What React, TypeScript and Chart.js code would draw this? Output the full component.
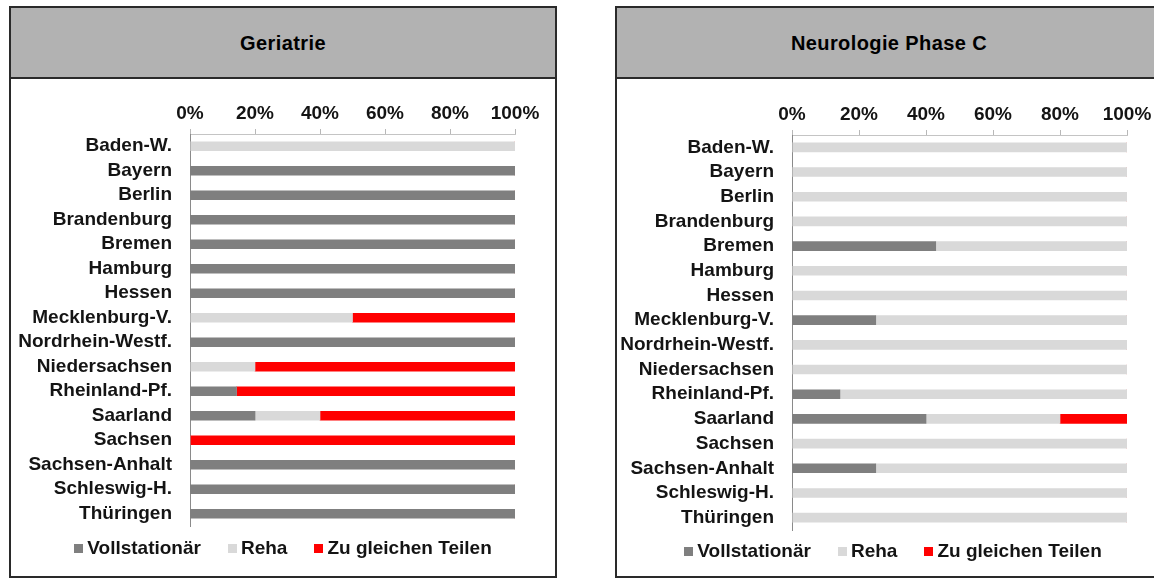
import React, { useEffect, useRef } from 'react';
import { Chart, registerables } from 'chart.js';

Chart.register(...registerables);

const categories = [
  'Baden-W.', 'Bayern', 'Berlin', 'Brandenburg', 'Bremen', 'Hamburg', 'Hessen',
  'Mecklenburg-V.', 'Nordrhein-Westf.', 'Niedersachsen', 'Rheinland-Pf.', 'Saarland',
  'Sachsen', 'Sachsen-Anhalt', 'Schleswig-H.', 'Thüringen',
];
const seriesLabels = ['Vollstationär', 'Reha', 'Zu gleichen Teilen'];
const seriesColors = ['#7f7f7f', '#d9d9d9', '#ff0000'];
const xTickValues = [0, 20, 40, 60, 80, 100];

const geriVoll = [0, 100, 100, 100, 100, 100, 100, 0, 100, 0, 14.3, 20, 0, 100, 100, 100];
const geriReha = [100, 0, 0, 0, 0, 0, 0, 50, 0, 20, 0, 20, 0, 0, 0, 0];
const geriZu = [0, 0, 0, 0, 0, 0, 0, 50, 0, 80, 85.7, 60, 100, 0, 0, 0];

const neuroVoll = [0, 0, 0, 0, 42.9, 0, 0, 25, 0, 0, 14.3, 40, 0, 25, 0, 0];
const neuroReha = [100, 100, 100, 100, 57.1, 100, 100, 75, 100, 100, 85.7, 40, 100, 75, 100, 100];
const neuroZu = [0, 0, 0, 0, 0, 0, 0, 0, 0, 0, 0, 20, 0, 0, 0, 0];

const FONT = '"Liberation Sans", Arial, Helvetica, sans-serif';
const TEXT = '#141414';
const FS = 19;

const boxLegend = {
  id: 'boxLegend',
  afterDraw(chart: any, _args: any, opts: any) {
    const ctx = chart.ctx;
    ctx.save();
    ctx.font = `bold ${FS}px ${FONT}`;
    ctx.textBaseline = 'middle';
    ctx.textAlign = 'left';
    const items = chart.data.datasets.map((d: any) => ({ text: d.label, color: d.backgroundColor }));
    const box = 9;
    const gapText = 4;
    const gapItem = 27;
    const widths = items.map((it: any) => box + gapText + ctx.measureText(it.text).width);
    const total = widths.reduce((a: number, b: number) => a + b, 0) + gapItem * (items.length - 1);
    let x = (chart.width - total) / 2 + (opts.dx || 0);
    const y = opts.y;
    items.forEach((it: any, i: number) => {
      ctx.fillStyle = it.color;
      ctx.fillRect(Math.round(x), Math.round(y - box / 2), box, box);
      ctx.fillStyle = TEXT;
      ctx.fillText(it.text, x + box + gapText, y + 1);
      x += widths[i] + gapItem;
    });
    ctx.restore();
  },
};

type PanelProps = {
  title: string;
  left: number;
  voll: number[];
  reha: number[];
  zu: number[];
  axisWidth: number;
  padRight: number;
  areaTop: number;
  padBottom: number;
  legendY: number;
  legendDx: number;
};

const PANEL_W = 548;
const PANEL_H = 572;
const PANEL_TOP = 6;
const HEADER_H = 71;
const CANVAS_W = PANEL_W - 4;
const CANVAS_H = PANEL_H - 4 - HEADER_H;

function Panel(p: PanelProps) {
  const ref = useRef<HTMLCanvasElement>(null);
  useEffect(() => {
    if (!ref.current) return;
    const values = [p.voll, p.reha, p.zu];
    const chart = new Chart(ref.current, {
      type: 'bar',
      data: {
        labels: categories,
        datasets: seriesLabels.map((label, i) => ({
          label,
          data: values[i],
          backgroundColor: seriesColors[i],
          borderWidth: 0,
          barThickness: 9,
        })),
      },
      options: {
        indexAxis: 'y',
        animation: false,
        responsive: false,
        devicePixelRatio: 1,
        layout: { padding: { left: 0, right: p.padRight, top: 0, bottom: p.padBottom } },
        plugins: {
          legend: { display: false },
          tooltip: { enabled: false },
          title: { display: false },
          boxLegend: { y: p.legendY, dx: p.legendDx },
        } as any,
        scales: {
          x: {
            position: 'top',
            stacked: true,
            min: 0,
            max: 100,
            afterBuildTicks: (s: any) => {
              s.ticks = xTickValues.map((v) => ({ value: v }));
            },
            afterFit: (s: any) => {
              s.height = p.areaTop;
            },
            ticks: {
              padding: 4,
              maxRotation: 0,
              color: TEXT,
              font: { family: FONT, size: FS, weight: 'bold' },
              callback: (v: any) => v + '%',
            },
            grid: {
              drawOnChartArea: false,
              drawTicks: true,
              tickLength: 5,
              color: '#b8b8b8',
            },
            border: { display: true, color: '#c4c4c4', width: 1 },
          },
          y: {
            type: 'category',
            stacked: true,
            afterFit: (s: any) => {
              s.width = p.axisWidth;
            },
            ticks: {
              padding: 18,
              color: TEXT,
              autoSkip: false,
              font: { family: FONT, size: FS, weight: 'bold' },
            },
            grid: { display: false, drawTicks: false },
            border: { display: true, color: '#8a8a8a', width: 1 },
          },
        },
      },
      plugins: [boxLegend],
    } as any);
    return () => chart.destroy();
  }, []);

  return (
    <div
      style={{
        position: 'absolute',
        left: p.left,
        top: PANEL_TOP,
        width: PANEL_W,
        height: PANEL_H,
        boxSizing: 'border-box',
        border: '2px solid #2a2a2a',
        background: '#ffffff',
      }}
    >
      <div
        style={{
          height: HEADER_H,
          borderBottom: '2px solid #2a2a2a',
          background: '#b2b2b2',
          display: 'flex',
          alignItems: 'center',
          justifyContent: 'center',
          fontFamily: FONT,
          fontWeight: 'bold',
          fontSize: 20,
          letterSpacing: '0.4px',
          color: '#000',
          paddingTop: 2,
          boxSizing: 'border-box',
        }}
      >
        {p.title}
      </div>
      <canvas ref={ref} width={CANVAS_W} height={CANVAS_H} style={{ display: 'block' }} />
    </div>
  );
}

export default function App() {
  return (
    <div style={{ position: 'absolute', left: 0, top: 0, width: 1154, height: 579, overflow: 'hidden', background: '#fff' }}>
      <Panel
        title="Geriatrie"
        left={9}
        voll={geriVoll}
        reha={geriReha}
        zu={geriZu}
        axisWidth={179}
        padRight={40}
        areaTop={55}
        padBottom={50}
        legendY={469}
        legendDx={0}
      />
      <Panel
        title="Neurologie Phase C"
        left={615}
        voll={neuroVoll}
        reha={neuroReha}
        zu={neuroZu}
        axisWidth={175}
        padRight={34}
        areaTop={56}
        padBottom={46}
        legendY={472}
        legendDx={4}
      />
    </div>
  );
}
